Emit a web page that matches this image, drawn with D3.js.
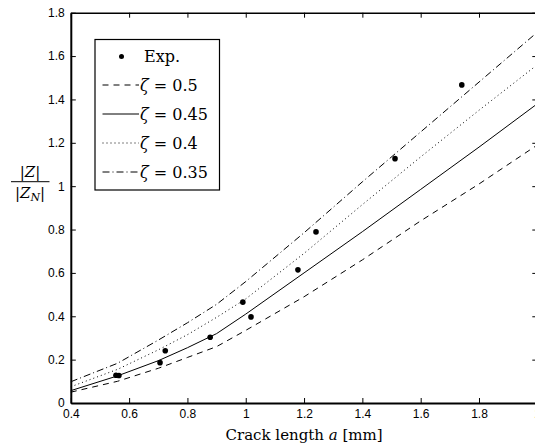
<!DOCTYPE html>
<html>
<head>
<meta charset="utf-8">
<script src="https://cdn.jsdelivr.net/npm/d3@7"></script>
<style>
  body { margin: 0; background: #fff; }
  svg { display: block; }
</style>
</head>
<body>
<svg id="chart" width="535" height="446"></svg>
<script>
// model curves, a in mm
const aGrid = [0.4, 0.56, 0.7, 0.8, 0.9, 1.0, 1.2, 1.4, 1.6, 1.8, 2.0];
const zeta050 = [0.05, 0.10, 0.16, 0.21, 0.26, 0.335, 0.49, 0.66, 0.84, 1.01, 1.19];
const zeta045 = [0.057, 0.125, 0.195, 0.255, 0.32, 0.41, 0.60, 0.79, 0.985, 1.18, 1.38];
const zeta040 = [0.075, 0.155, 0.245, 0.315, 0.395, 0.48, 0.69, 0.915, 1.135, 1.35, 1.56];
const zeta035 = [0.098, 0.183, 0.29, 0.37, 0.455, 0.56, 0.785, 1.02, 1.25, 1.48, 1.71];

// experiment
const expA = [0.555, 0.565, 0.706, 0.724, 0.878, 0.990, 1.018, 1.179, 1.241, 1.512, 1.741];
const expZ = [0.128, 0.127, 0.186, 0.241, 0.303, 0.465, 0.397, 0.614, 0.789, 1.127, 1.467];

const xTicks = [0.4, 0.6, 0.8, 1, 1.2, 1.4, 1.6, 1.8, 2];
const yTicks = [0, 0.2, 0.4, 0.6, 0.8, 1, 1.2, 1.4, 1.6, 1.8];

const series = [
  { label: "0.5", values: zeta050, dash: "6,5" },
  { label: "0.45", values: zeta045, dash: null },
  { label: "0.4", values: zeta040, dash: "1,3" },
  { label: "0.35", values: zeta035, dash: "7,3,1,3" }
];

const box = { left: 70.8, right: 537.3, top: 12.7, bottom: 403 };
const serif = "'DejaVu Serif', 'Liberation Serif', serif";
const sans = "'Liberation Sans', Arial, sans-serif";

const svg = d3.select("#chart");

const x = d3.scaleLinear().domain([0.4, 2]).range([box.left, box.right]);
const y = d3.scaleLinear().domain([0, 1.8]).range([box.bottom, box.top]);

const fmt = d => String(d);

// axes with inward ticks
svg.append("g")
  .attr("transform", `translate(0,${box.bottom})`)
  .call(d3.axisBottom(x).tickValues(xTicks).tickFormat(fmt).tickSizeInner(-5).tickSizeOuter(0).tickPadding(6))
  .call(g => g.select(".domain").attr("stroke-width", 2));

svg.append("g")
  .attr("transform", `translate(${box.left},0)`)
  .call(d3.axisLeft(y).tickValues(yTicks).tickFormat(fmt).tickSizeInner(-5).tickSizeOuter(0).tickPadding(6))
  .call(g => g.select(".domain").attr("stroke-width", 2));

svg.append("g")
  .attr("transform", `translate(0,${box.top})`)
  .call(d3.axisTop(x).tickValues(xTicks).tickFormat("").tickSizeInner(-5).tickSizeOuter(0))
  .call(g => g.select(".domain").attr("stroke-width", 1.5));

svg.append("g")
  .attr("transform", `translate(${box.right},0)`)
  .call(d3.axisRight(y).tickValues(yTicks).tickFormat("").tickSizeInner(-5).tickSizeOuter(0))
  .call(g => g.select(".domain").attr("stroke-width", 1.5));

svg.selectAll(".tick text")
  .attr("fill", "#000")
  .attr("font-family", sans)
  .attr("font-size", 12);
svg.selectAll(".tick line").attr("stroke", "#000");

// curves
const line = d3.line()
  .x((d, i) => x(aGrid[i]))
  .y(d => y(d));

svg.append("g")
  .selectAll("path")
  .data(series)
  .join("path")
  .attr("d", d => line(d.values))
  .attr("fill", "none")
  .attr("stroke", "#000")
  .attr("stroke-width", 1)
  .attr("stroke-dasharray", d => d.dash);

svg.append("g")
  .selectAll("circle")
  .data(expA)
  .join("circle")
  .attr("cx", d => x(d))
  .attr("cy", (d, i) => y(expZ[i]))
  .attr("r", 2.8)
  .attr("fill", "#000");

// legend
const legend = svg.append("g").attr("transform", "translate(95,39.5)");
legend.append("rect")
  .attr("width", 124.5).attr("height", 150.5)
  .attr("fill", "#fff").attr("stroke", "#000").attr("stroke-width", 1.2);

legend.append("circle").attr("cx", 26.5).attr("cy", 17).attr("r", 2.5).attr("fill", "#000");
legend.append("text")
  .attr("font-family", serif).attr("font-size", 16)
  .attr("x", 49).attr("y", 22.5).text("Exp.");

const rows = legend.selectAll("g.row")
  .data(series)
  .join("g")
  .attr("class", "row")
  .attr("transform", (d, i) => `translate(0,${45.5 + i * 29})`);

rows.append("line")
  .attr("x1", 7.5).attr("x2", 44)
  .attr("stroke", "#000").attr("stroke-width", 1)
  .attr("stroke-dasharray", d => d.dash);

const lt = rows.append("text")
  .attr("font-family", serif).attr("font-size", 16)
  .attr("x", 45).attr("y", 6);
lt.append("tspan").attr("font-style", "italic").text("\u03B6");
lt.append("tspan").text(d => " = " + d.label);

// x label
const xl = svg.append("text")
  .attr("font-family", serif).attr("font-size", 15)
  .attr("x", (box.left + box.right) / 2).attr("y", 440)
  .attr("text-anchor", "middle");
xl.append("tspan").text("Crack length ");
xl.append("tspan").attr("font-style", "italic").text("a");
xl.append("tspan").text(" [mm]");

// y label as a fraction
const yl = svg.append("g").attr("font-family", serif).attr("font-size", 15);
const num = yl.append("text").attr("x", 30).attr("y", 177).attr("text-anchor", "middle");
num.append("tspan").text("|");
num.append("tspan").attr("font-style", "italic").text("Z");
num.append("tspan").text("|");
yl.append("line").attr("x1", 11).attr("x2", 49.5).attr("y1", 181.7).attr("y2", 181.7)
  .attr("stroke", "#000").attr("stroke-width", 1);
const den = yl.append("text").attr("x", 30).attr("y", 197.5).attr("text-anchor", "middle");
den.append("tspan").text("|");
den.append("tspan").attr("font-style", "italic").text("Z");
den.append("tspan").attr("font-style", "italic").attr("font-size", 11).attr("dy", 3).text("N");
den.append("tspan").attr("dy", -3).text("|");
</script>
</body>
</html>
